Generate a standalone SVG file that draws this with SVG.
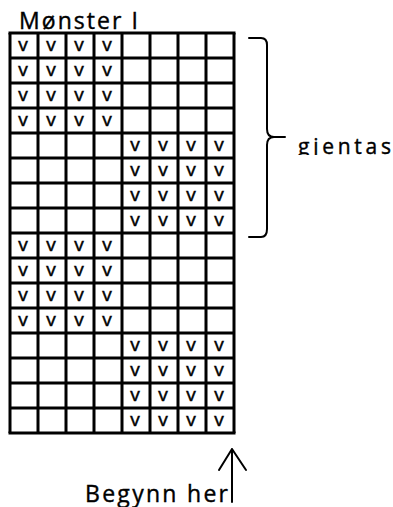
<svg xmlns="http://www.w3.org/2000/svg" width="393" height="507" viewBox="0 0 393 507">
<style>
.t{font-family:"Open Sans","Liberation Sans",sans-serif;fill:#000;stroke:#000;stroke-width:0.4}
.v{font-family:"Open Sans","Liberation Sans",sans-serif;font-size:19px;fill:#000;stroke:#000;stroke-width:0.5;text-anchor:middle}
.g{stroke:#000;stroke-width:3;fill:none}
.ln{stroke:#000;stroke-width:2;fill:none;stroke-linecap:round;stroke-linejoin:round}
</style>
<defs>
<clipPath id="clipG"><rect x="280" y="100" width="113" height="55"/></clipPath>
</defs>
<rect width="393" height="507" fill="#fff"/>
<g id="title"><text class="t" x="19" y="29" font-size="23" textLength="119" lengthAdjust="spacing">Mønster I</text></g>
<g id="grid">
<path class="g" d="M10,33V433M38,33V433M66,33V433M94,33V433M122,33V433M150,33V433M178,33V433M206,33V433M234,33V433"/>
<path class="g" d="M8.5,33H235.5M10,58H234M10,83H234M10,108H234M10,133H234M10,158H234M10,183H234M10,208H234M10,233H234M10,258H234M10,283H234M10,308H234M10,333H234M10,358H234M10,383H234M10,408H234M8.5,433H235.5"/>
<g id="v-block1">
<text class="v" x="23" y="51">v</text><text class="v" x="51" y="51">v</text><text class="v" x="79" y="51">v</text><text class="v" x="107" y="51">v</text>
<text class="v" x="23" y="76">v</text><text class="v" x="51" y="76">v</text><text class="v" x="79" y="76">v</text><text class="v" x="107" y="76">v</text>
<text class="v" x="23" y="101">v</text><text class="v" x="51" y="101">v</text><text class="v" x="79" y="101">v</text><text class="v" x="107" y="101">v</text>
<text class="v" x="23" y="126">v</text><text class="v" x="51" y="126">v</text><text class="v" x="79" y="126">v</text><text class="v" x="107" y="126">v</text>
</g>
<g id="v-block2">
<text class="v" x="135" y="151">v</text><text class="v" x="163" y="151">v</text><text class="v" x="191" y="151">v</text><text class="v" x="219" y="151">v</text>
<text class="v" x="135" y="176">v</text><text class="v" x="163" y="176">v</text><text class="v" x="191" y="176">v</text><text class="v" x="219" y="176">v</text>
<text class="v" x="135" y="201">v</text><text class="v" x="163" y="201">v</text><text class="v" x="191" y="201">v</text><text class="v" x="219" y="201">v</text>
<text class="v" x="135" y="226">v</text><text class="v" x="163" y="226">v</text><text class="v" x="191" y="226">v</text><text class="v" x="219" y="226">v</text>
</g>
<g id="v-block3">
<text class="v" x="23" y="251">v</text><text class="v" x="51" y="251">v</text><text class="v" x="79" y="251">v</text><text class="v" x="107" y="251">v</text>
<text class="v" x="23" y="276">v</text><text class="v" x="51" y="276">v</text><text class="v" x="79" y="276">v</text><text class="v" x="107" y="276">v</text>
<text class="v" x="23" y="301">v</text><text class="v" x="51" y="301">v</text><text class="v" x="79" y="301">v</text><text class="v" x="107" y="301">v</text>
<text class="v" x="23" y="326">v</text><text class="v" x="51" y="326">v</text><text class="v" x="79" y="326">v</text><text class="v" x="107" y="326">v</text>
</g>
<g id="v-block4">
<text class="v" x="135" y="351">v</text><text class="v" x="163" y="351">v</text><text class="v" x="191" y="351">v</text><text class="v" x="219" y="351">v</text>
<text class="v" x="135" y="376">v</text><text class="v" x="163" y="376">v</text><text class="v" x="191" y="376">v</text><text class="v" x="219" y="376">v</text>
<text class="v" x="135" y="401">v</text><text class="v" x="163" y="401">v</text><text class="v" x="191" y="401">v</text><text class="v" x="219" y="401">v</text>
<text class="v" x="135" y="426">v</text><text class="v" x="163" y="426">v</text><text class="v" x="191" y="426">v</text><text class="v" x="219" y="426">v</text>
</g>
</g>
<g id="connectors">
<path id="brace" class="ln" d="M249,38H261Q267,38 267,45V129Q267,137 274,137H285M274,137Q267,137 267,145V229Q267,237 261,237H249"/>
<path id="arrow" class="ln" d="M232,502V449M219,470L232,449L246,470"/>
</g>
<g id="label-gjentas"><text class="t" x="298" y="154" font-size="21" textLength="93" lengthAdjust="spacing" clip-path="url(#clipG)">gjentas</text></g>
<g id="label-begynn"><text class="t" x="85" y="502" font-size="23" textLength="143" lengthAdjust="spacing">Begynn her</text></g>
</svg>
